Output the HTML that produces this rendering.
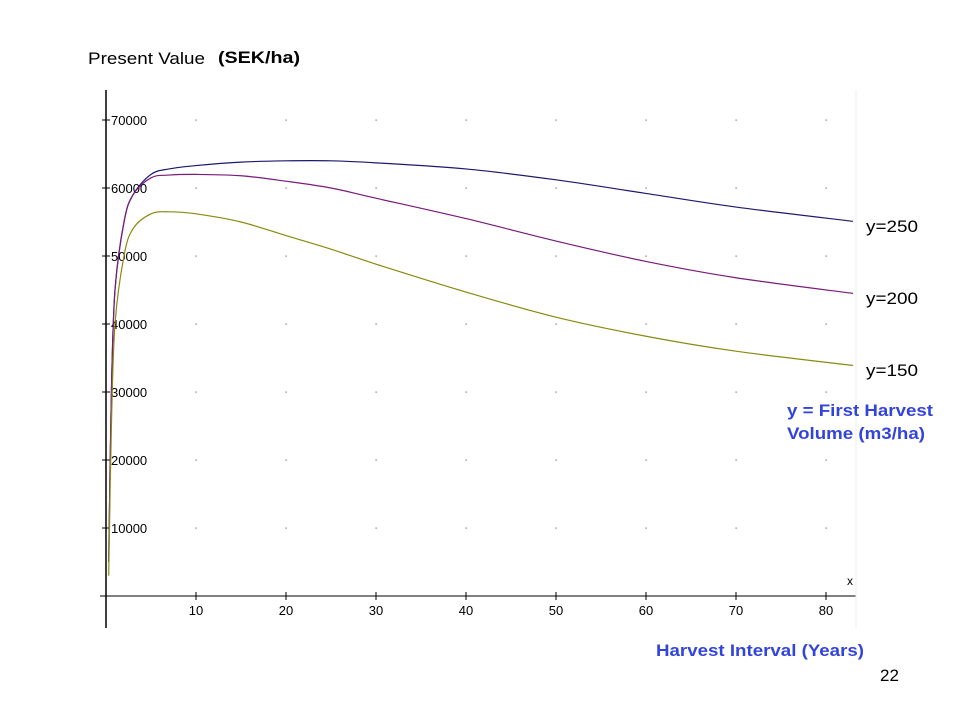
<!DOCTYPE html>
<html><head><meta charset="utf-8"><style>
body{margin:0;background:#fff;width:960px;height:720px;overflow:hidden;font-family:"Liberation Sans",sans-serif}
</style></head><body>
<svg width="960" height="720" xmlns="http://www.w3.org/2000/svg">
<g id="axes"></g>
<g id="series"></g>
<text x="88" y="64" font-size="17" textLength="117" lengthAdjust="spacingAndGlyphs" fill="#000">Present Value</text>
<text x="218" y="63" font-size="17" textLength="82" lengthAdjust="spacingAndGlyphs" font-weight="bold" fill="#000">(SEK/ha)</text>
<text x="866" y="232" font-size="17" textLength="52" lengthAdjust="spacingAndGlyphs" fill="#000">y=250</text>
<text x="866" y="304" font-size="17" textLength="52" lengthAdjust="spacingAndGlyphs" fill="#000">y=200</text>
<text x="866" y="376" font-size="17" textLength="52" lengthAdjust="spacingAndGlyphs" fill="#000">y=150</text>
<text x="787" y="416" font-size="17" textLength="146" lengthAdjust="spacingAndGlyphs" font-weight="bold" fill="#3344dd">y = First Harvest</text>
<text x="787" y="439" font-size="17" textLength="138" lengthAdjust="spacingAndGlyphs" font-weight="bold" fill="#3344dd">Volume (m3/ha)</text>
<text x="656" y="656" font-size="17" textLength="208" lengthAdjust="spacingAndGlyphs" font-weight="bold" fill="#3344dd">Harvest Interval (Years)</text>
<text x="880" y="681" font-size="17" fill="#000">22</text>
</svg>
<script>
const xTicks=[10,20,30,40,50,60,70,80];
const yTicks=[10000,20000,30000,40000,50000,60000,70000];
const xs=[0.3,0.6,1,2,3,5,7,10,15,20,25,30,40,50,60,70,83];
const s250=[5000,30000,45000,55000,59000,62000,62800,63300,63800,64000,64000,63700,62800,61200,59200,57200,55100];
const s200=[5000,30000,45000,55000,59000,61500,61900,62000,61800,61000,60000,58500,55500,52200,49200,46800,44500];
const s150=[3000,25000,40000,50000,54000,56200,56500,56200,55000,53000,51000,48800,44700,41000,38200,36000,33900];
const NS='http://www.w3.org/2000/svg';
const X=v=>106+v*9, Y=v=>596-v*0.0068;
const ax=document.getElementById('axes'), sg=document.getElementById('series');
function el(t,a,p){const e=document.createElementNS(NS,t);for(const k in a)e.setAttribute(k,a[k]);p.appendChild(e);return e;}
let e=el('line',{x1:106,y1:90,x2:106,y2:628,stroke:'#000','stroke-width':1.5},ax);

e=el('line',{x1:100,y1:596,x2:856,y2:596,stroke:'#000','stroke-width':1},ax);

e=el('line',{x1:856,y1:90,x2:856,y2:628,stroke:'#eee','stroke-width':1},ax);

xTicks.forEach(t=>{
 let l=el('line',{x1:X(t),y1:592,x2:X(t),y2:600,stroke:'#000'},ax);
 
 let tx=el('text',{x:X(t),y:615,'font-size':13,'text-anchor':'middle',fill:'#000'},ax);tx.textContent=t;
 
 yTicks.forEach(v=>{let d=el('rect',{x:X(t)-0.5,y:Y(v)-0.5,width:1.2,height:1.2,fill:'#666'},ax);
  });
});
yTicks.forEach(v=>{
 let l=el('line',{x1:102,y1:Y(v),x2:110,y2:Y(v),stroke:'#000'},ax);
 
 let tx=el('text',{x:111,y:Y(v)+5,'font-size':13,fill:'#000'},ax);tx.textContent=v;
 
});
let xl=el('text',{x:847,y:585,'font-size':12,fill:'#000'},ax);xl.textContent='x';

function path(vals){const p=xs.map((x,i)=>[X(x),Y(vals[i])]);let d='M'+p[0][0]+','+p[0][1];
 for(let i=0;i<p.length-1;i++){const a=p[i-1]||p[i],b=p[i],c=p[i+1],n=p[i+2]||c;
  d+=` C${b[0]+(c[0]-a[0])/6},${b[1]+(c[1]-a[1])/6} ${c[0]-(n[0]-b[0])/6},${c[1]-(n[1]-b[1])/6} ${c[0]},${c[1]}`;}
 return d;}
[[s250,'#1a1a6e','line-y250'],[s200,'#7a1a7a','line-y200'],[s150,'#8a8a10','line-y150']].forEach(([v,c,n])=>{
 let p=el('path',{d:path(v),fill:'none',stroke:c,'stroke-width':1.2},sg);
 
});
</script>
</body></html>
